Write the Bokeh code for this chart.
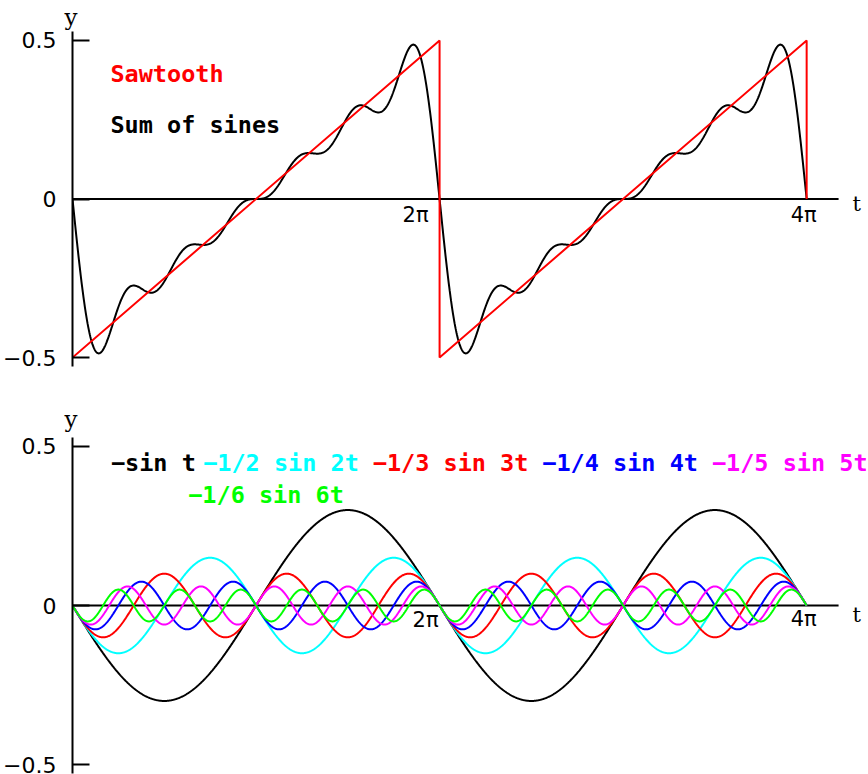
import numpy as np
from bokeh.plotting import figure
from bokeh.layouts import column
from bokeh.models import Label, FixedTicker, Title
from bokeh.embed import file_html
from bokeh.resources import INLINE

# ---------------- data ----------------
harmonics = [1, 2, 3, 4, 5, 6]
coefficients = [-1.0, -1/2, -1/3, -1/4, -1/5, -1/6]
amplitude = 0.30           # peak of the "-sin t" curve
component_labels = ["\u2212sin t", "\u22121/2 sin 2t", "\u22121/3 sin 3t",
                    "\u22121/4 sin 4t", "\u22121/5 sin 5t", "\u22121/6 sin 6t"]
component_colors = ["black", "cyan", "red", "blue", "magenta", "lime"]
saw_t = [0.0, 2*np.pi, 2*np.pi, 4*np.pi, 4*np.pi]
saw_y = [-0.5, 0.5, -0.5, 0.5, 0.0]
t_start, t_end = 0.0, 4*np.pi
ytick_values = [-0.5, 0.0, 0.5]
ytick_labels = ["\u22120.5", "0", "0.5"]
xtick_values = [2*np.pi, 4*np.pi]
xtick_labels = ["2\u03c0", "4\u03c0"]
top_legend = ["Sawtooth", "Sum of sines"]
top_legend_colors = ["red", "black"]

t = np.linspace(t_start, t_end, 1601)
components = [amplitude * c * np.sin(k * t) for k, c in zip(harmonics, coefficients)]
sum_of_sines = np.sum(components, axis=0)

# ---------------- layout ----------------
W = 868
BORDER_LEFT = 70                     # y axis position in canvas px
X_PIX = (806.0 - BORDER_LEFT) / (4*np.pi)   # pixels per unit t
X_MAX = (W - BORDER_LEFT) / X_PIX
FRAME_H = 336
Y_HALF = 0.528
Y_PIX = FRAME_H / (2*Y_HALF)
TOP_H, TOP_BT, TOP_BB = 393, 30, 27
BOT_H, BOT_BT, BOT_BB = 381, 44, 1
ZERO_TOP = TOP_BT + FRAME_H / 2.0                    # canvas y of y=0, upper panel
ZERO_BOT = TOP_H + BOT_BT + FRAME_H / 2.0            # canvas y of y=0, lower panel


def dx(px):
    return (px - BORDER_LEFT) / X_PIX


LEG_FONT = "DejaVu Sans Mono"
LEG_SIZE = "23.5px"


def make_fig(height, border_top, border_bottom, title_standoff):
    p = figure(width=W, height=height, x_range=(0, X_MAX), y_range=(-Y_HALF, Y_HALF),
               output_backend="svg", toolbar_location=None, title=None,
               x_axis_location=None, y_axis_location="left",
               min_border_left=BORDER_LEFT, min_border_right=0,
               min_border_top=border_top, min_border_bottom=border_bottom)
    p.title = Title(text="y", align="left", offset=-8, standoff=title_standoff,
                    text_font="DejaVu Serif", text_font_size="23px",
                    text_font_style="normal", text_color="black")
    p.outline_line_color = None
    p.grid.grid_line_color = None
    p.background_fill_color = "white"
    p.border_fill_color = "white"
    ax = p.yaxis[0]
    ax.ticker = FixedTicker(ticks=ytick_values)
    ax.major_label_overrides = {v: s for v, s in zip(ytick_values, ytick_labels)}
    ax.bounds = (-Y_HALF, Y_HALF)
    ax.major_tick_in = 17
    ax.major_tick_out = 0
    ax.minor_tick_line_color = None
    ax.axis_line_width = 2
    ax.major_tick_line_width = 2
    ax.major_label_standoff = 16
    ax.major_label_text_font = "DejaVu Sans"
    ax.major_label_text_font_size = "22px"
    ax.major_label_text_color = "black"
    # horizontal t axis drawn at y = 0
    p.segment(x0=[t_start], y0=[0.0], x1=[dx(838)], y1=[0.0], line_color="black", line_width=2)
    return p


def add_axis_texts(p, zero_canvas, t_base, xtick_specs):
    def dy(py):
        return (zero_canvas - py) / Y_PIX
    p.add_layout(Label(x=dx(852), y=dy(t_base), text="t",
                       text_font="DejaVu Serif", text_font_size="21px",
                       text_align="left", text_baseline="alphabetic", text_color="black"))
    for (v, s, (mode, px, base)) in zip(xtick_values, xtick_labels, xtick_specs):
        p.add_layout(Label(x=dx(px), y=dy(base), text=s,
                           text_font="DejaVu Sans", text_font_size="21px",
                           text_align=mode, text_baseline="alphabetic", text_color="black"))
    return dy


# ---------------- top panel ----------------
top = make_fig(TOP_H, TOP_BT, TOP_BB, 3)
top.line(t, sum_of_sines, line_color="black", line_width=2)
top.line(saw_t, saw_y, line_color="red", line_width=2)
dy_top = add_axis_texts(top, ZERO_TOP, 203.5, [("right", 427, 214), ("center", 803, 214)])
for txt, col, base in zip(top_legend, top_legend_colors, [73, 124]):
    top.add_layout(Label(x=dx(108), y=dy_top(base), text=txt, text_font=LEG_FONT,
                         text_font_size=LEG_SIZE, text_color=col, text_font_style="bold",
                         text_align="left", text_baseline="alphabetic"))

# ---------------- bottom panel ----------------
bot = make_fig(BOT_H, BOT_BT, BOT_BB, 12)
for comp, col in zip(components, component_colors):
    bot.line(t, comp, line_color=col, line_width=2)
dy_bot = add_axis_texts(bot, ZERO_BOT, 614.5, [("right", 437, 619), ("center", 803, 618)])
legend_pos = [(108.5, 462), (201, 462), (371, 462), (541, 462), (711, 462), (186, 494)]
for txt, col, (px, base) in zip(component_labels, component_colors, legend_pos):
    bot.add_layout(Label(x=dx(px), y=dy_bot(base), text=txt, text_font=LEG_FONT,
                         text_font_size=LEG_SIZE, text_color=col, text_font_style="bold",
                         text_align="left", text_baseline="alphabetic"))

layout = column(top, bot, spacing=0)
open("out.html", "w").write(file_html(layout, INLINE))
